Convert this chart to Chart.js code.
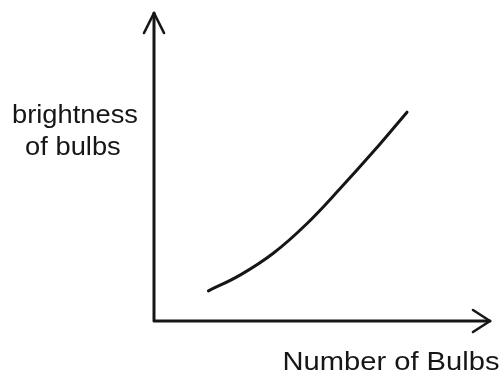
<!DOCTYPE html>
<html>
<head>
<meta charset="utf-8">
<script src="https://cdn.jsdelivr.net/npm/chart.js@4/dist/chart.umd.min.js"></script>
<style>
  html, body { margin: 0; padding: 0; background: #fff; }
  #wrap { width: 504px; height: 374px; }
</style>
</head>
<body>
<div id="wrap"><canvas id="bulbs"></canvas></div>
<script>
// sketch curve: brightness rises with the number of bulbs
const bulbCount = [1.62, 2.56, 3.55, 4.54, 5.54, 6.53, 7.53];
const brightness = [0.98, 1.49, 2.2, 3.15, 4.3, 5.5, 6.78];
const yLabel = ["brightness", "of bulbs"];
const xLabel = "Number of Bulbs";

const ink = "#161616";

// hand-drawn style axes with arrow heads plus the two axis captions
const sketchAxes = {
  id: "sketchAxes",
  afterDraw(chart) {
    const ctx = chart.ctx;
    const a = chart.chartArea;
    ctx.save();
    ctx.strokeStyle = ink;
    ctx.lineWidth = 3;
    ctx.lineCap = "round";
    ctx.lineJoin = "round";

    ctx.beginPath();
    ctx.moveTo(a.left, a.top);
    ctx.lineTo(a.left, a.bottom);
    ctx.lineTo(a.right, a.bottom);
    ctx.stroke();

    ctx.lineWidth = 2.6;
    ctx.beginPath();
    ctx.moveTo(a.left - 10, a.top + 20);
    ctx.lineTo(a.left, a.top);
    ctx.lineTo(a.left + 10, a.top + 20);
    ctx.stroke();

    ctx.beginPath();
    ctx.moveTo(a.right - 17, a.bottom - 11);
    ctx.lineTo(a.right, a.bottom);
    ctx.lineTo(a.right - 17, a.bottom + 11);
    ctx.stroke();

    ctx.fillStyle = ink;
    ctx.font = "26px 'Liberation Sans', Arial, sans-serif";
    ctx.textAlign = "center";
    ctx.textBaseline = "alphabetic";

    ctx.save();
    ctx.translate(75, 123);
    ctx.scale(1.05, 1);
    ctx.fillText(yLabel[0], 0, 0);
    ctx.fillText(yLabel[1], -2, 32);
    ctx.restore();

    ctx.save();
    ctx.translate(391, 370);
    ctx.scale(1.12, 1);
    ctx.fillText(xLabel, 0, 0);
    ctx.restore();

    ctx.restore();
  }
};

new Chart(document.getElementById("bulbs"), {
  type: "scatter",
  data: {
    datasets: [
      {
        data: bulbCount.map((x, i) => ({ x: x, y: brightness[i] })),
        showLine: true,
        borderColor: ink,
        borderWidth: 3,
        pointRadius: 0,
        tension: 0.4,
        borderCapStyle: "round",
      },
    ],
  },
  options: {
    responsive: true,
    maintainAspectRatio: false,
    animation: false,
    layout: { padding: { left: 154, right: 14, top: 13, bottom: 53 } },
    plugins: { legend: { display: false }, tooltip: { enabled: false } },
    scales: {
      x: { display: false, min: 0, max: 10 },
      y: { display: false, min: 0, max: 10 },
    },
  },
  plugins: [sketchAxes],
});
</script>
</body>
</html>
